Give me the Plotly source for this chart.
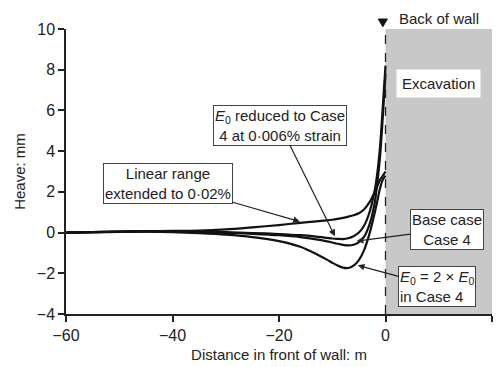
import plotly.graph_objects as go

# ---- data ----
distance = [-60, -55, -50, -45, -40, -35, -30, -25, -20, -16, -13, -11, -10, -9, -8, -7, -6, -5, -4, -3, -2, -1.5, -1, -0.5, 0]
linear_range = [0.0, 0.02, 0.05, 0.07, 0.08, 0.10, 0.16, 0.26, 0.37, 0.48, 0.55, 0.60, 0.63, 0.67, 0.72, 0.78, 0.85, 0.95, 1.15, 1.50, 2.00, 2.30, 2.60, 2.80, 3.00]
e0_reduced = [0.0, 0.02, 0.05, 0.07, 0.06, 0.04, 0.02, -0.02, -0.07, -0.13, -0.20, -0.26, -0.29, -0.31, -0.32, -0.28, -0.18, 0.0, 0.35, 1.0, 2.1, 3.0, 4.3, 6.2, 8.2]
base_case = [0.0, 0.02, 0.04, 0.06, 0.05, 0.02, -0.01, -0.06, -0.13, -0.22, -0.33, -0.43, -0.49, -0.55, -0.60, -0.63, -0.60, -0.47, -0.20, 0.40, 1.5, 2.5, 3.8, 5.7, 7.8]
e0_double = [0.0, 0.02, 0.03, 0.04, 0.02, -0.03, -0.10, -0.22, -0.42, -0.70, -1.05, -1.33, -1.48, -1.62, -1.72, -1.74, -1.62, -1.35, -0.85, -0.05, 1.0, 1.6, 2.2, 2.6, 2.8]

x_ticks = [-60, -40, -20, 0, 20]
y_ticks = [-4, -2, 0, 2, 4, 6, 8, 10]

FONT = "Liberation Sans, Arial, sans-serif"
INK = "#222222"

fig = go.Figure()

for name, ys in [("Linear range extended to 0·02%", linear_range),
                 ("E0 reduced", e0_reduced),
                 ("Base case", base_case),
                 ("E0 = 2 × E0", e0_double)]:
    fig.add_trace(go.Scatter(x=distance, y=ys, mode="lines", name=name,
                             line=dict(color="#111111", width=2.2, shape="spline", smoothing=0.8),
                             showlegend=False, hoverinfo="skip"))

# excavation shading and wall line
fig.add_shape(type="rect", x0=0, x1=20, y0=-4, y1=10, xref="x", yref="y",
              fillcolor="#c8c8c8", line=dict(width=0), layer="below")
fig.add_shape(type="line", x0=0, x1=0, y0=-4, y1=10, xref="x", yref="y",
              line=dict(color=INK, width=1.3, dash="dash"))
# wall marker triangle above the plot
fig.add_shape(type="path", xref="x", yref="paper",
              path="M -1.35,1.035 L 0.35,1.035 L -0.5,1.008 Z",
              fillcolor="#111111", line=dict(color="#111111", width=1))

box = dict(bgcolor="white", bordercolor="#444444", borderwidth=1, borderpad=1,
           font=dict(family=FONT, size=15, color=INK),
           showarrow=True, arrowhead=2, arrowsize=1.1, arrowwidth=1.2, arrowcolor=INK,
           axref="x", ayref="y", xref="x", yref="y")

annos = [
    dict(x=-16.1, y=0.54, ax=-40.8, ay=2.40, text="Linear range<br>extended to 0·02%", **box),
    dict(x=-9.5, y=-0.18, ax=-19.8, ay=5.27,
         text="<i>E</i><sub>0</sub> reduced to Case<br>4 at 0·006% strain", **box),
    dict(x=-5.4, y=-0.42, ax=11.5, ay=0.16, text="Base case<br>Case 4", **box),
    dict(x=-5.2, y=-1.61, ax=9.7, ay=-2.66,
         text="<i>E</i><sub>0</sub> = 2 × <i>E</i><sub>0</sub><br>in Case 4", align="left", **box),
    dict(x=10.0, y=7.32, xref="x", yref="y", text="Excavation", bgcolor="white", borderpad=5,
         showarrow=False, font=dict(family=FONT, size=15, color=INK)),
    dict(x=10.0, y=1.0, xref="x", yref="paper", yanchor="bottom", text="Back of wall",
         showarrow=False, font=dict(family=FONT, size=15, color=INK)),
]

fig.update_layout(
    width=498, height=367,
    margin=dict(l=66, r=6, t=29, b=45),
    paper_bgcolor="white", plot_bgcolor="white",
    font=dict(family=FONT, size=15, color=INK),
    annotations=annos,
    xaxis=dict(range=[-60, 20], tickvals=x_ticks, showgrid=False, zeroline=False,
               showline=True, linecolor=INK, linewidth=1.5, ticks="outside",
               ticklen=6, tickwidth=1.5, tickcolor=INK,
               tickfont=dict(family=FONT, size=16, color=INK),
               title=dict(text="Distance in front of wall: m", standoff=7,
                          font=dict(family=FONT, size=15, color=INK))),
    yaxis=dict(range=[-4, 10], tickvals=y_ticks, showgrid=False, zeroline=False,
               showline=True, linecolor=INK, linewidth=1.5, ticks="outside",
               ticklen=6, tickwidth=1.5, tickcolor=INK,
               tickfont=dict(family=FONT, size=16, color=INK),
               title=dict(text="Heave: mm", standoff=8,
                          font=dict(family=FONT, size=15, color=INK))),
)

fig.write_html("out.html", config={"displayModeBar": False},
               post_script="document.body.style.margin='0';document.body.style.overflow='hidden';")
